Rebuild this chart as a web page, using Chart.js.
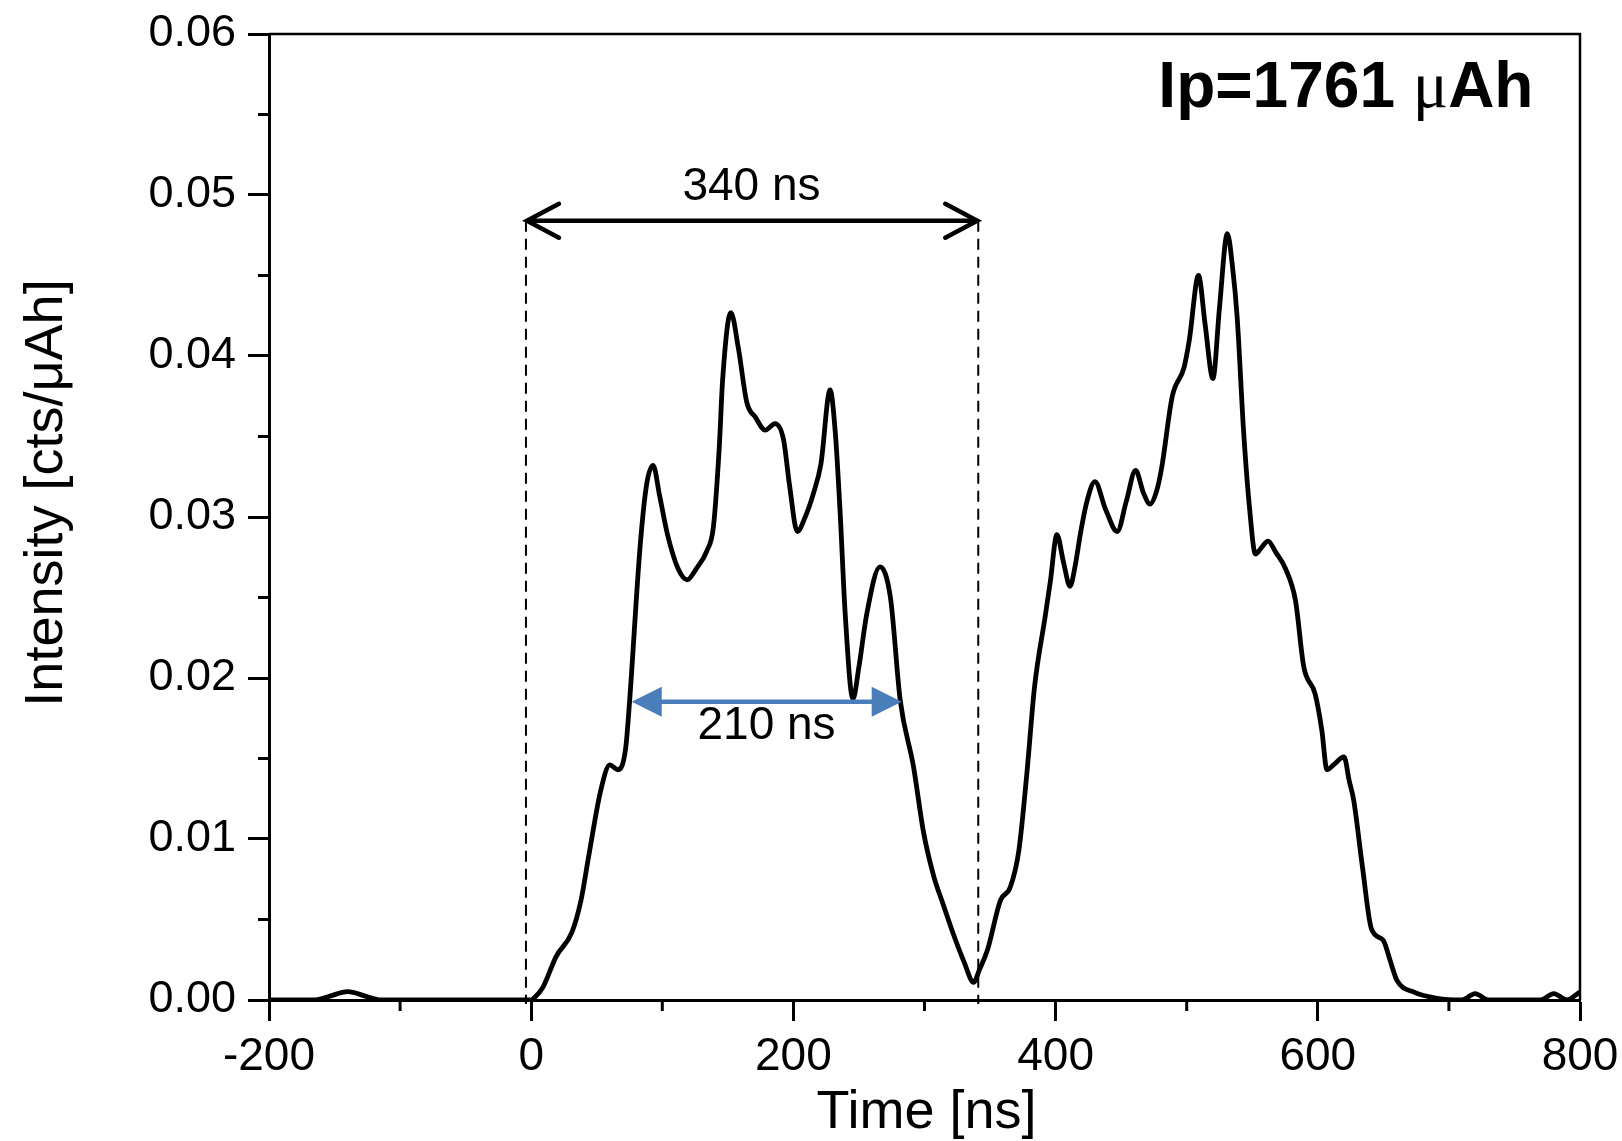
<!DOCTYPE html>
<html>
<head>
<meta charset="utf-8">
<script src="https://cdn.jsdelivr.net/npm/chart.js@4.4.1/dist/chart.umd.min.js"></script>
<style>
  html, body { margin: 0; padding: 0; background: #fff; }
  canvas { display: block; }
</style>
</head>
<body>
<canvas id="c" width="1622" height="1141"></canvas>
<script>
// ---- data ----
const timeNs = [-200,-165,-155,-140,-125,-115,-60,0,2,9,19,31,38,44,53,60,66,72,75,83,88,93,98,104,112,119,126,134,139,143.5,146,152.3,158,164.5,171,178.5,186,192.5,197,203,209,215.4,221,228,232,235.7,239.5,245.4,250,256,266,274,281.5,291.6,299.3,307,314,322,330,337.5,342,348,358,365.4,372,378,384,392,396,401,406,411,415,419,424,430,438,447,454,461,467,472,477,481,489,498,502,509,514,520,525,531,535,538.5,543.5,548,552.4,557,562,568,575.3,583,589.3,598,603,607,612,620,624,627.4,634,641,650,655,660.5,673,691,710,720,730,770,780,790,800];
const intensity = [0,0,0.0002,0.00052,0.0002,0,0,0,0.0001,0.0008,0.0027,0.0042,0.0062,0.0090,0.0130,0.0146,0.0143,0.0156,0.0185,0.0281,0.0320,0.0332,0.0313,0.0289,0.0268,0.0261,0.0268,0.0279,0.0294,0.0344,0.0385,0.0427,0.0405,0.0371,0.0362,0.0354,0.0358,0.0348,0.0320,0.0291,0.0300,0.0315,0.0333,0.0379,0.0352,0.0302,0.0240,0.0187,0.0207,0.0240,0.0269,0.0250,0.0186,0.0145,0.0104,0.0077,0.0060,0.0041,0.0024,0.0011,0.0019,0.0031,0.0062,0.0070,0.0093,0.0140,0.0195,0.0238,0.0260,0.0289,0.0272,0.0257,0.0270,0.0290,0.0310,0.0322,0.0305,0.0291,0.0310,0.0329,0.0315,0.0308,0.0316,0.0331,0.0375,0.0393,0.0410,0.0450,0.0420,0.0386,0.0430,0.0476,0.0455,0.0424,0.0352,0.0305,0.0277,0.0281,0.0285,0.0278,0.0268,0.0248,0.0207,0.0190,0.0168,0.0143,0.0146,0.0151,0.0136,0.0124,0.0083,0.0044,0.0037,0.0025,0.0012,0.0005,0.0001,0,0.0004,0,0,0.0004,0,0.0005];

const xTickValues = [-200, 0, 200, 400, 600, 800];
const xMinorValues = [-100, 100, 300, 500, 700];
const yTickValues = [0, 0.01, 0.02, 0.03, 0.04, 0.05, 0.06];
const yMinorValues = [0.005, 0.015, 0.025, 0.035, 0.045, 0.055];

// annotation anchors (data units)
const span340 = { x0: -4, x1: 341, y: 0.0484, label: '340 ns', labelX: 168, labelY: 0.0505 };
const span210 = { x0: 76.7, x1: 282.6, y: 0.01853, label: '210 ns', labelX: 179.5, labelY: 0.0170 };
const ipLabel = { parts: ['Ip=1761 ', 'μ', 'Ah'], rightX: 764.5, baseY: 0.05547 };
const xTitle = 'Time [ns]';
const yTitle = 'Intensity [cts/μAh]';

const FONT = '"Liberation Sans", Arial, Helvetica, sans-serif';
const points = timeNs.map((t, i) => ({ x: t, y: intensity[i] }));

const decor = {
  id: 'decor',
  beforeDatasetsDraw(chart) {
    const { ctx, scales: { x, y } } = chart;
    ctx.save();
    ctx.strokeStyle = '#000';
    ctx.lineWidth = 2;
    ctx.setLineDash([11, 7]);
    [span340.x0, span340.x1].forEach(v => {
      const px = x.getPixelForValue(v);
      ctx.beginPath();
      ctx.moveTo(px, y.getPixelForValue(span340.y));
      ctx.lineTo(px, y.getPixelForValue(0) + 4);
      ctx.stroke();
    });
    ctx.restore();
  },
  afterDatasetsDraw(chart) {
    const { ctx, chartArea: a, scales: { x, y } } = chart;
    ctx.save();
    // frame top & right
    ctx.strokeStyle = '#000';
    ctx.lineWidth = 2.5;
    ctx.setLineDash([]);
    ctx.beginPath();
    ctx.moveTo(a.left, a.top);
    ctx.lineTo(a.right, a.top);
    ctx.lineTo(a.right, a.bottom);
    ctx.stroke();

    // minor ticks
    ctx.lineWidth = 3;
    xMinorValues.forEach(v => {
      const px = x.getPixelForValue(v);
      ctx.beginPath(); ctx.moveTo(px, a.bottom); ctx.lineTo(px, a.bottom + 11); ctx.stroke();
    });
    yMinorValues.forEach(v => {
      const py = y.getPixelForValue(v);
      ctx.beginPath(); ctx.moveTo(a.left - 11, py); ctx.lineTo(a.left, py); ctx.stroke();
    });

    // black double arrow (open heads)
    const bx0 = x.getPixelForValue(span340.x0), bx1 = x.getPixelForValue(span340.x1), by = y.getPixelForValue(span340.y);
    ctx.lineWidth = 4.5;
    ctx.lineCap = 'round';
    ctx.beginPath(); ctx.moveTo(bx0 + 2, by); ctx.lineTo(bx1 - 2, by); ctx.stroke();
    ctx.beginPath();
    ctx.moveTo(bx0 + 33, by - 17); ctx.lineTo(bx0 + 1, by); ctx.lineTo(bx0 + 33, by + 17);
    ctx.moveTo(bx1 - 33, by - 17); ctx.lineTo(bx1 - 1, by); ctx.lineTo(bx1 - 33, by + 17);
    ctx.stroke();

    // blue double arrow (filled heads)
    const cx0 = x.getPixelForValue(span210.x0), cx1 = x.getPixelForValue(span210.x1), cy = y.getPixelForValue(span210.y);
    ctx.strokeStyle = '#4a7ebb';
    ctx.fillStyle = '#4a7ebb';
    ctx.lineCap = 'butt';
    ctx.lineWidth = 4.5;
    ctx.beginPath(); ctx.moveTo(cx0 + 20, cy); ctx.lineTo(cx1 - 20, cy); ctx.stroke();
    ctx.beginPath();
    ctx.moveTo(cx0, cy); ctx.lineTo(cx0 + 30, cy - 15); ctx.lineTo(cx0 + 30, cy + 15); ctx.closePath();
    ctx.moveTo(cx1, cy); ctx.lineTo(cx1 - 30, cy - 15); ctx.lineTo(cx1 - 30, cy + 15); ctx.closePath();
    ctx.fill();

    // span labels
    ctx.fillStyle = '#000';
    ctx.font = '46px ' + FONT;
    ctx.textAlign = 'center';
    ctx.textBaseline = 'middle';
    ctx.fillText(span340.label, x.getPixelForValue(span340.labelX), y.getPixelForValue(span340.labelY));
    ctx.fillText(span210.label, x.getPixelForValue(span210.labelX), y.getPixelForValue(span210.labelY));

    // Ip label
    const fBold = 'bold 64px ' + FONT;
    const fMu = '66px "Liberation Serif", "Times New Roman", serif';
    ctx.textBaseline = 'alphabetic';
    ctx.textAlign = 'left';
    ctx.font = fBold; const w0 = ctx.measureText(ipLabel.parts[0]).width;
    const w2 = ctx.measureText(ipLabel.parts[2]).width;
    ctx.font = fMu; const w1 = ctx.measureText(ipLabel.parts[1]).width;
    let sx = x.getPixelForValue(ipLabel.rightX) - (w0 + w1 + w2);
    const sy = y.getPixelForValue(ipLabel.baseY);
    ctx.font = fBold; ctx.fillText(ipLabel.parts[0], sx, sy); sx += w0;
    ctx.font = fMu; ctx.fillText(ipLabel.parts[1], sx, sy); sx += w1;
    ctx.font = fBold; ctx.fillText(ipLabel.parts[2], sx, sy);

    // axis titles
    ctx.font = '54px ' + FONT;
    ctx.textAlign = 'center';
    ctx.textBaseline = 'alphabetic';
    ctx.fillText(xTitle, (a.left + a.right) / 2 + 2, a.bottom + 128);
    ctx.save();
    ctx.translate(a.left - 207, (a.top + a.bottom) / 2 - 24);
    ctx.rotate(-Math.PI / 2);
    ctx.fillText(yTitle, 0, 0);
    ctx.restore();
    ctx.restore();
  }
};

new Chart(document.getElementById('c'), {
  type: 'line',
  data: {
    datasets: [{
      data: points,
      borderColor: '#000',
      borderWidth: 4.8,
      pointRadius: 0,
      fill: false,
      cubicInterpolationMode: 'monotone'
    }]
  },
  options: {
    responsive: false,
    animation: false,
    devicePixelRatio: 1,
    layout: { padding: { top: 34, right: 42, left: 0, bottom: 0 } },
    plugins: { legend: { display: false }, tooltip: { enabled: false }, title: { display: false } },
    scales: {
      x: {
        type: 'linear',
        min: -200, max: 800,
        afterFit: s => { s.height = 141; s.paddingLeft = 0; s.paddingRight = 0; },
        afterBuildTicks: s => { s.ticks = xTickValues.map(v => ({ value: v })); },
        ticks: { color: '#000', font: { size: 46, family: FONT }, padding: 9, maxRotation: 0, autoSkip: false,
                 callback: v => String(v) },
        grid: { display: true, drawOnChartArea: false, drawTicks: true, tickLength: 21, tickWidth: 3, tickColor: '#000' },
        border: { display: true, color: '#000', width: 3 }
      },
      y: {
        type: 'linear',
        min: 0, max: 0.06,
        afterFit: s => { s.width = 269; s.paddingTop = 0; s.paddingBottom = 0; },
        afterBuildTicks: s => { s.ticks = yTickValues.map(v => ({ value: v })); },
        ticks: { color: '#000', font: { size: 45, family: FONT }, padding: 12, autoSkip: false,
                 callback: v => Number(v).toFixed(2) },
        grid: { display: true, drawOnChartArea: false, drawTicks: true, tickLength: 21, tickWidth: 3, tickColor: '#000' },
        border: { display: true, color: '#000', width: 3 }
      }
    }
  },
  plugins: [decor]
});
</script>
</body>
</html>
